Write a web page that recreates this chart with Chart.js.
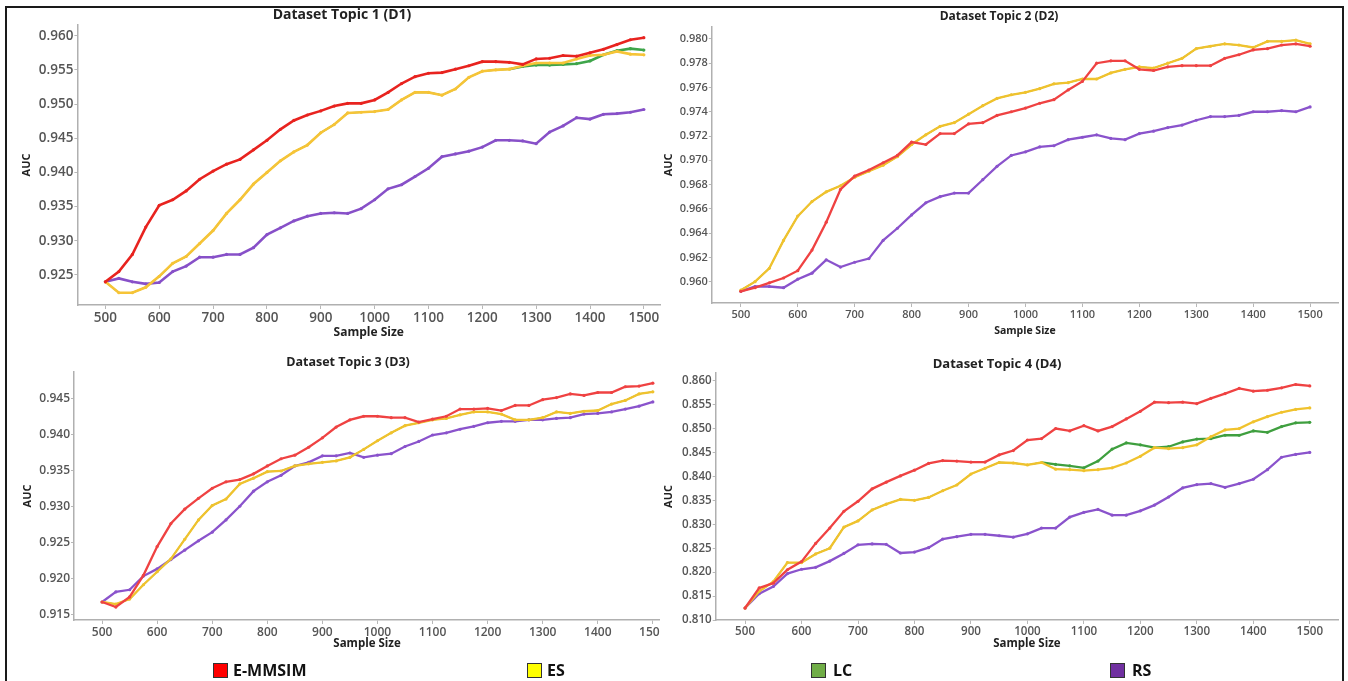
<!DOCTYPE html>
<html><head><meta charset="utf-8">
<script src="https://cdn.jsdelivr.net/npm/chart.js@4.4.1/dist/chart.umd.min.js"></script>
<style>
html,body{margin:0;padding:0;background:#fff;width:1348px;height:681px;overflow:hidden;font-family:"Open Sans",sans-serif;}
#frame{position:absolute;left:5px;top:6px;width:1339px;height:720px;border:2px solid #1a1a1a;box-sizing:border-box;}
.panel{position:absolute;overflow:hidden;}
.panel canvas{position:absolute;left:0;top:0;}
.ttl{position:absolute;transform:translate(-50%,-50%);font-weight:700;color:#222;white-space:nowrap;font-family:"Open Sans",sans-serif;}
.lg{position:absolute;top:663px;width:15px;height:15px;border:1.5px solid #333;box-sizing:border-box;}
.lt{position:absolute;top:670px;transform:translateY(-50%);font-weight:700;font-size:16px;color:#111;font-family:"Open Sans",sans-serif;}
</style></head>
<body>
<div id="frame"></div>
<div class="panel" style="left:8px;top:0px;width:660px;height:345px;"><canvas id="c1" width="660" height="345"></canvas></div>
<div class="panel" style="left:655px;top:0px;width:686px;height:345px;"><canvas id="c2" width="686" height="345"></canvas></div>
<div class="panel" style="left:8px;top:345px;width:652px;height:315px;"><canvas id="c3" width="690" height="315"></canvas></div>
<div class="panel" style="left:655px;top:345px;width:686px;height:315px;"><canvas id="c4" width="686" height="315"></canvas></div>
<div class="ttl" style="left:342px;top:13px;font-size:14px;">Dataset Topic 1 (D1)</div>
<div class="ttl" style="left:999px;top:15px;font-size:12px;">Dataset Topic 2 (D2)</div>
<div class="ttl" style="left:348px;top:361px;font-size:12.5px;">Dataset Topic 3 (D3)</div>
<div class="ttl" style="left:997px;top:363px;font-size:13px;">Dataset Topic 4 (D4)</div>
<div class="lg" style="left:213px;background:#ff0000;"></div><div class="lt" style="left:233px;">E-MMSIM</div>
<div class="lg" style="left:527px;background:#ffff00;"></div><div class="lt" style="left:547px;">ES</div>
<div class="lg" style="left:811px;background:#70ad47;"></div><div class="lt" style="left:833px;">LC</div>
<div class="lg" style="left:1110px;background:#7030a0;"></div><div class="lt" style="left:1132px;">RS</div>
<script>
const sampleSizes = [500,525,550,575,600,625,650,675,700,725,750,775,800,825,850,875,900,925,950,975,1000,1025,1050,1075,1100,1125,1150,1175,1200,1225,1250,1275,1300,1325,1350,1375,1400,1425,1450,1475,1500];
const xTickValues = [500,600,700,800,900,1000,1100,1200,1300,1400,1500];
const seriesNames = ['E-MMSIM','ES','LC','RS'];

const d1YTicks = [0.925,0.930,0.935,0.940,0.945,0.950,0.955,0.960];
const d2YTicks = [0.960,0.962,0.964,0.966,0.968,0.970,0.972,0.974,0.976,0.978,0.980];
const d3YTicks = [0.915,0.920,0.925,0.930,0.935,0.940,0.945];
const d4YTicks = [0.810,0.815,0.820,0.825,0.830,0.835,0.840,0.845,0.850,0.855,0.860];

// Dataset Topic 1 (D1)
const d1EMMSIM = [0.9240,0.9255,0.9280,0.9320,0.9352,0.9360,0.9373,0.9390,0.9402,0.9412,0.9419,0.9433,0.9447,0.9463,0.9476,0.9484,0.9490,0.9497,0.9501,0.9501,0.9506,0.9517,0.9530,0.9540,0.9545,0.9546,0.9551,0.9556,0.9562,0.9562,0.9561,0.9558,0.9566,0.9567,0.9571,0.9570,0.9575,0.9580,0.9587,0.9594,0.9597];
const d1ES = [0.9240,0.9224,0.9224,0.9232,0.9248,0.9267,0.9277,0.9296,0.9315,0.9340,0.9360,0.9383,0.9400,0.9417,0.9430,0.9440,0.9458,0.9470,0.9487,0.9488,0.9489,0.9492,0.9506,0.9517,0.9517,0.9513,0.9522,0.9539,0.9548,0.9550,0.9551,0.9556,0.9560,0.9560,0.9560,0.9566,0.9571,0.9572,0.9577,0.9573,0.9572];
const d1LC = [0.9240,0.9224,0.9224,0.9232,0.9248,0.9267,0.9277,0.9296,0.9315,0.9340,0.9360,0.9383,0.9400,0.9417,0.9430,0.9440,0.9458,0.9470,0.9487,0.9488,0.9489,0.9492,0.9506,0.9517,0.9517,0.9513,0.9522,0.9539,0.9548,0.9550,0.9551,0.9555,0.9557,0.9557,0.9558,0.9559,0.9563,0.9572,0.9578,0.9581,0.9579];
const d1RS = [0.9240,0.9245,0.9240,0.9237,0.9239,0.9255,0.9263,0.9276,0.9276,0.9280,0.9280,0.9290,0.9309,0.9319,0.9329,0.9336,0.9340,0.9341,0.9340,0.9347,0.9360,0.9376,0.9382,0.9394,0.9406,0.9423,0.9427,0.9431,0.9437,0.9447,0.9447,0.9446,0.9442,0.9459,0.9468,0.9480,0.9478,0.9485,0.9486,0.9488,0.9492];

// Dataset Topic 2 (D2)
const d2EMMSIM = [0.9592,0.9595,0.9599,0.9603,0.9609,0.9626,0.9649,0.9676,0.9687,0.9692,0.9698,0.9704,0.9715,0.9713,0.9722,0.9722,0.9730,0.9731,0.9737,0.9740,0.9743,0.9747,0.9750,0.9758,0.9765,0.9780,0.9782,0.9782,0.9775,0.9774,0.9777,0.9778,0.9778,0.9778,0.9784,0.9787,0.9791,0.9792,0.9795,0.9796,0.9794];
const d2ES = [0.9593,0.9600,0.9611,0.9634,0.9654,0.9666,0.9674,0.9679,0.9686,0.9691,0.9696,0.9703,0.9713,0.9721,0.9728,0.9731,0.9738,0.9745,0.9751,0.9754,0.9756,0.9759,0.9763,0.9764,0.9767,0.9767,0.9772,0.9775,0.9777,0.9776,0.9780,0.9784,0.9792,0.9794,0.9796,0.9795,0.9793,0.9798,0.9798,0.9799,0.9796];
const d2LC = [0.9593,0.9600,0.9611,0.9634,0.9654,0.9666,0.9674,0.9679,0.9686,0.9691,0.9696,0.9703,0.9713,0.9721,0.9728,0.9731,0.9738,0.9745,0.9751,0.9754,0.9756,0.9759,0.9763,0.9764,0.9767,0.9767,0.9772,0.9775,0.9777,0.9776,0.9780,0.9784,0.9792,0.9794,0.9796,0.9795,0.9793,0.9798,0.9798,0.9799,0.9796];
const d2RS = [0.9592,0.9596,0.9596,0.9595,0.9602,0.9607,0.9618,0.9612,0.9616,0.9619,0.9634,0.9644,0.9655,0.9665,0.9670,0.9673,0.9673,0.9684,0.9695,0.9704,0.9707,0.9711,0.9712,0.9717,0.9719,0.9721,0.9718,0.9717,0.9722,0.9724,0.9727,0.9729,0.9733,0.9736,0.9736,0.9737,0.9740,0.9740,0.9741,0.9740,0.9744];

// Dataset Topic 3 (D3)
const d3EMMSIM = [0.9168,0.9161,0.9175,0.9205,0.9245,0.9277,0.9297,0.9312,0.9326,0.9335,0.9338,0.9346,0.9357,0.9367,0.9372,0.9383,0.9396,0.9411,0.9421,0.9426,0.9426,0.9424,0.9424,0.9418,0.9422,0.9426,0.9436,0.9436,0.9437,0.9434,0.9441,0.9441,0.9449,0.9452,0.9457,0.9455,0.9459,0.9459,0.9467,0.9468,0.9472];
const d3ES = [0.9168,0.9165,0.9172,0.9192,0.9210,0.9228,0.9255,0.9282,0.9302,0.9311,0.9332,0.9340,0.9349,0.9350,0.9357,0.9360,0.9362,0.9364,0.9369,0.9380,0.9392,0.9403,0.9413,0.9417,0.9421,0.9423,0.9428,0.9432,0.9432,0.9429,0.9421,0.9421,0.9424,0.9432,0.9430,0.9433,0.9434,0.9443,0.9448,0.9457,0.9460];
const d3LC = [0.9168,0.9165,0.9172,0.9192,0.9210,0.9228,0.9255,0.9282,0.9302,0.9311,0.9332,0.9340,0.9349,0.9350,0.9357,0.9360,0.9362,0.9364,0.9369,0.9380,0.9392,0.9403,0.9413,0.9417,0.9421,0.9423,0.9428,0.9432,0.9432,0.9429,0.9421,0.9421,0.9424,0.9432,0.9430,0.9433,0.9434,0.9443,0.9448,0.9457,0.9460];
const d3RS = [0.9168,0.9182,0.9185,0.9204,0.9214,0.9227,0.9240,0.9253,0.9265,0.9282,0.9301,0.9322,0.9335,0.9344,0.9357,0.9362,0.9371,0.9371,0.9375,0.9369,0.9372,0.9374,0.9384,0.9391,0.9400,0.9403,0.9408,0.9412,0.9417,0.9419,0.9419,0.9421,0.9421,0.9423,0.9424,0.9429,0.9430,0.9432,0.9436,0.9440,0.9446];

// Dataset Topic 4 (D4)
const d4EMMSIM = [0.8125,0.8167,0.8177,0.8205,0.8222,0.8260,0.8292,0.8327,0.8348,0.8374,0.8388,0.8401,0.8413,0.8427,0.8433,0.8432,0.8430,0.8430,0.8445,0.8454,0.8476,0.8479,0.8500,0.8495,0.8506,0.8495,0.8504,0.8520,0.8536,0.8555,0.8554,0.8555,0.8552,0.8563,0.8573,0.8584,0.8578,0.8580,0.8585,0.8592,0.8589];
const d4ES = [0.8125,0.8160,0.8180,0.8220,0.8220,0.8238,0.8250,0.8294,0.8307,0.8330,0.8342,0.8352,0.8350,0.8356,0.8370,0.8382,0.8405,0.8417,0.8429,0.8428,0.8424,0.8429,0.8415,0.8414,0.8412,0.8414,0.8418,0.8428,0.8442,0.8460,0.8458,0.8460,0.8466,0.8483,0.8497,0.8500,0.8514,0.8525,0.8534,0.8540,0.8543];
const d4LC = [0.8125,0.8160,0.8180,0.8220,0.8220,0.8238,0.8250,0.8294,0.8307,0.8330,0.8342,0.8352,0.8350,0.8356,0.8370,0.8382,0.8405,0.8417,0.8429,0.8428,0.8424,0.8429,0.8425,0.8422,0.8418,0.8432,0.8457,0.8470,0.8466,0.8460,0.8462,0.8472,0.8478,0.8479,0.8486,0.8486,0.8495,0.8492,0.8504,0.8512,0.8513];
const d4RS = [0.8125,0.8155,0.8170,0.8197,0.8206,0.8210,0.8223,0.8239,0.8257,0.8259,0.8258,0.8240,0.8242,0.8251,0.8269,0.8274,0.8279,0.8279,0.8276,0.8273,0.8280,0.8292,0.8292,0.8315,0.8325,0.8331,0.8319,0.8319,0.8328,0.8340,0.8357,0.8376,0.8383,0.8385,0.8377,0.8385,0.8394,0.8414,0.8440,0.8446,0.8450];

const panels = [
  {id:'c1', series:[d1EMMSIM,d1ES,d1LC,d1RS], yTicks:d1YTicks, xMin:448, xMax:1530, yMin:0.92061, yMax:0.96156,
   colors:['#e8231f','#f6c437','#3ea54a','#8750c8'], lw:2.6, tickFont:13.5, titleFont:12, ytPad:12.4, xtPad:4.8,
   pad:{top:25,right:8,left:0,bottom:0}, yW:69.4, xH:40},
  {id:'c2', series:[d2EMMSIM,d2ES,d2LC,d2RS], yTicks:d2YTicks, xMin:449, xMax:1549, yMin:0.95824, yMax:0.98101,
   colors:['#ef4242','#f0c22d','#3f9f3f','#8a53cc'], lw:2.3, tickFont:11, titleFont:10.5, ytPad:7.3, xtPad:7.7,
   pad:{top:26.7,right:3,left:0,bottom:0}, yW:56.8, xH:42},
  {id:'c3', series:[d3EMMSIM,d3ES,d3LC,d3RS], yTicks:d3YTicks, xMin:449, xMax:1513, yMin:0.9143, yMax:0.94875,
   colors:['#ef4242','#f0c22d','#3f9f3f','#8a53cc'], lw:2.3, tickFont:12, titleFont:11.5, ytPad:13.4, xtPad:9.1,
   pad:{top:27,right:38,left:0,bottom:0}, yW:66, xH:40},
  {id:'c4', series:[d4EMMSIM,d4ES,d4LC,d4RS], yTicks:d4YTicks, xMin:448, xMax:1550, yMin:0.8100, yMax:0.8616,
   colors:['#ef4242','#f0c22d','#3f9f3f','#8a53cc'], lw:2.3, tickFont:11.6, titleFont:11.5, ytPad:6.9, xtPad:9.1,
   pad:{top:28,right:3,left:0,bottom:0}, yW:60.7, xH:40}
];

const FAMILY = '"Open Sans", sans-serif';
panels.forEach(p => {
  const toPts = arr => arr.map((v, i) => ({x: sampleSizes[i], y: v}));
  const es = p.series[1], lc = p.series[2];
  // LC segments lying exactly under ES are drawn thinner so ES fully covers them
  const hidden = i => lc[i] === es[i];
  new Chart(document.getElementById(p.id), {
    type: 'line',
    data: {
      datasets: p.series.map((s, i) => ({
        label: seriesNames[i], data: toPts(s),
        borderColor: p.colors[i], backgroundColor: p.colors[i],
        borderWidth: p.lw,
        segment: i === 2 ? {borderWidth: c => (hidden(c.p0DataIndex) && hidden(c.p1DataIndex)) ? p.lw - 1 : p.lw} : undefined,
        pointRadius: i === 2 ? (c => hidden(c.dataIndex) ? 1 : 1.6) : 1.6,
        pointBorderWidth: 0, pointHoverRadius: 0,
        tension: 0, fill: false
      }))
    },
    options: {
      responsive: false, animation: false, devicePixelRatio: 1,
      events: [],
      layout: {padding: p.pad},
      plugins: {legend: {display: false}, tooltip: {enabled: false}, title: {display: false}},
      scales: {
        x: {
          type: 'linear', min: p.xMin, max: p.xMax,
          afterBuildTicks: s => { s.ticks = xTickValues.map(v => ({value: v})); },
          afterFit: s => { s.height = p.xH; },
          ticks: {font: {family: FAMILY, size: p.tickFont, weight: '600'}, color: '#555', padding: 1, maxRotation: 0, autoSkip: false, callback: v => String(v)},
          grid: {display: true, drawOnChartArea: false, drawTicks: true, tickLength: 4, color: '#b8b8b8', lineWidth: 1},
          border: {display: true, color: '#b0b0b0', width: 1.5},
          title: {display: true, text: 'Sample Size', color: '#222', font: {family: FAMILY, size: p.titleFont, weight: '700'}, padding: {top: 0, bottom: p.xtPad}}
        },
        y: {
          type: 'linear', min: p.yMin, max: p.yMax,
          afterBuildTicks: s => { s.ticks = p.yTicks.map(v => ({value: v})); },
          afterFit: s => { s.width = p.yW; },
          ticks: {font: {family: FAMILY, size: p.tickFont, weight: '600'}, color: '#555', padding: 1, autoSkip: false, callback: v => Number(v).toFixed(3)},
          grid: {display: true, drawOnChartArea: false, drawTicks: true, tickLength: 3, color: '#b8b8b8', lineWidth: 1},
          border: {display: true, color: '#b0b0b0', width: 1.5},
          title: {display: true, text: 'AUC', color: '#222', font: {family: FAMILY, size: 11, weight: '700'}, padding: {top: p.ytPad, bottom: 0}}
        }
      }
    }
  });
});
</script>
</body></html>
